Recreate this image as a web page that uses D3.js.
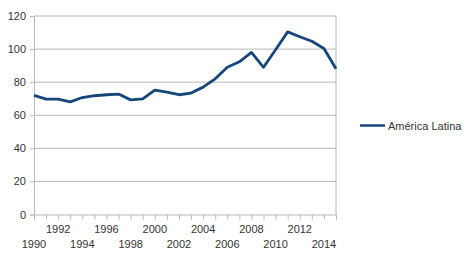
<!DOCTYPE html>
<html><head><meta charset="utf-8">
<script src="https://cdn.jsdelivr.net/npm/d3@7"></script>
<style>body{margin:0;background:#fff}svg{display:block}text{font-family:"Liberation Sans",Arial,sans-serif}</style>
</head><body><svg id="c" width="472" height="261"></svg>
<script>
const years = d3.range(1990, 2016);
const values = [72, 69.7, 69.8, 68.1, 70.7, 71.8, 72.4, 72.8, 69.3, 69.9, 75.2, 74, 72.4, 73.4, 77, 82, 89, 92.3, 98, 89, 99.6, 110.4, 107.5, 104.7, 100.4, 88.1];
const yTicks = [0, 20, 40, 60, 80, 100, 120];
const xLabelYears = d3.range(1990, 2015, 2);
const seriesName = "América Latina";

const svg = d3.select("#c");
const m = {l: 34, r: 336, t: 16, b: 214.5};
const x = d3.scaleLinear().domain([1990, 2015]).range([m.l, m.r]);
const y = d3.scaleLinear().domain([0, 120]).range([m.b, m.t]);
const grid = "#b8b8b8";

// gridlines
svg.append("g").selectAll("line").data(yTicks.filter(d => d > 0)).join("line")
  .attr("x1", m.l).attr("x2", m.r).attr("y1", d => y(d)).attr("y2", d => y(d))
  .attr("stroke", grid).attr("stroke-width", 1);
// right border
svg.append("line").attr("x1", m.r).attr("x2", m.r).attr("y1", m.t).attr("y2", m.b).attr("stroke", grid);

// y axis
const ya = svg.append("g").attr("transform", `translate(${m.l},0)`)
  .call(d3.axisLeft(y).tickValues(yTicks).tickSize(4).tickPadding(4));
ya.select(".domain").attr("stroke", grid);
ya.selectAll(".tick line").attr("stroke", grid);
ya.selectAll(".tick text").attr("fill", "#333").style("font-size", "11px");

// x axis
const xa = svg.append("g").attr("transform", `translate(0,${m.b})`)
  .call(d3.axisBottom(x).tickValues(years).tickSize(5).tickFormat(""));
xa.select(".domain").attr("stroke", grid);
xa.selectAll(".tick line").attr("stroke", grid);
svg.append("g").selectAll("text").data(xLabelYears).join("text")
  .attr("x", d => x(d)).attr("y", (d, i) => i % 2 === 0 ? 247.5 : 232.5)
  .attr("text-anchor", "middle").attr("fill", "#333").style("font-size", "11px")
  .text(d => d);

// line
svg.append("path").datum(values)
  .attr("d", d3.line().x((d, i) => x(years[i])).y(d => y(d)))
  .attr("fill", "none").attr("stroke", "#16467a").attr("stroke-width", 2.8)
  .attr("stroke-linejoin", "round");

// legend
svg.append("line").attr("x1", 360).attr("x2", 385).attr("y1", 125.5).attr("y2", 125.5)
  .attr("stroke", "#16467a").attr("stroke-width", 2.5);
svg.append("text").attr("x", 388).attr("y", 129.5).attr("fill", "#333").style("font-size", "11px").text(seriesName);
</script></body></html>
